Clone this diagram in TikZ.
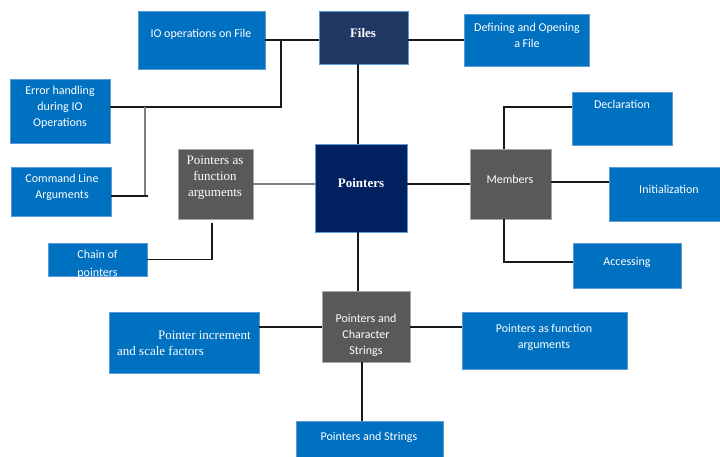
\documentclass[tikz,border=0pt]{standalone}
\usepackage{fontspec}
\newfontfamily\calibrifont{Carlito}
\newfontfamily\seriffont{Liberation Serif}
\usetikzlibrary{calc}

\definecolor{boxblue}{HTML}{0070C0}
\definecolor{edgeblue}{HTML}{5B9BD5}
\definecolor{boxgrey}{HTML}{595959}
\definecolor{edgegrey}{HTML}{A6A6A6}
\definecolor{filesnavy}{HTML}{203864}
\definecolor{ptrnavy}{HTML}{002060}

\tikzset{
  base/.style={rectangle, inner sep=0pt, outer sep=0pt},
  bluebox/.style={base, fill=boxblue, draw=edgeblue, line width=0.6pt},
  greybox/.style={base, fill=boxgrey, draw=edgegrey, line width=0.6pt},
  filesbox/.style={base, fill=filesnavy, draw=edgeblue, line width=0.6pt},
  ptrbox/.style={base, fill=ptrnavy, draw=edgeblue, line width=0.6pt},
  sans/.style={text=white, font=\calibrifont\fontsize{12}{16}\selectfont, align=center, inner sep=0pt},
  serif/.style={text=white, font=\seriffont\fontsize{13}{16}\selectfont, align=center, inner sep=0pt},
  serifbold/.style={text=white, font=\seriffont\fontsize{13}{15}\selectfont\bfseries, inner sep=0pt},
  link/.style={draw=black!90, line width=1.2pt},
  greylink/.style={draw=black!50, line width=1.2pt},
}

\begin{document}
\begin{tikzpicture}[x=1pt, y=-1pt]
\useasboundingbox (0,0) rectangle (720,456);

% --- boxes ---
\node[filesbox, minimum width=89pt, minimum height=53pt] (files) at (363.5,37.5) {};
\node[bluebox, minimum width=127pt, minimum height=58pt] (io) at (201.5,40) {};
\node[bluebox, minimum width=125pt, minimum height=52pt] (def) at (526.5,40) {};
\node[bluebox, minimum width=100pt, minimum height=64pt] (err) at (60,111) {};
\node[bluebox, minimum width=100pt, minimum height=49pt] (cmd) at (61,191.5) {};
\node[greybox, minimum width=75pt, minimum height=70pt] (pfa) at (215.5,184) {};
\node[ptrbox, minimum width=92pt, minimum height=88pt] (ptr) at (361,188) {};
\node[greybox, minimum width=81pt, minimum height=70pt] (mem) at (510.5,184) {};
\node[bluebox, minimum width=100pt, minimum height=53pt] (decl) at (622,118.5) {};
\node[bluebox, minimum width=111pt, minimum height=54pt] (init) at (664.5,194) {};
\node[bluebox, minimum width=108pt, minimum height=45pt] (acc) at (627,265.5) {};
\node[bluebox, minimum width=99pt, minimum height=33pt] (chain) at (97.5,259.5) {};
\node[greybox, minimum width=88pt, minimum height=71pt] (pcs) at (366,326.5) {};
\node[bluebox, minimum width=150pt, minimum height=61pt] (inc) at (184,342.5) {};
\node[bluebox, minimum width=165pt, minimum height=57pt] (rpfa) at (544.5,340.5) {};
\node[bluebox, minimum width=147pt, minimum height=40pt] (pas) at (369.5,441) {};

% --- labels ---
\node[serifbold] (files-t) at (363,33) {Files};
\node[sans] (io-t) at (201,34) {IO operations on File};
\node[sans] (def-t) at (527,35.5) {Defining and Opening\\a File};
\node[sans] (err-t) at (60,107.5) {Error handling\\during IO\\Operations};
\node[sans] (cmd-t) at (62,187) {Command Line\\Arguments};
\node[serif] (pfa-t) at (215,177.5) {Pointers as\\function\\arguments};
\node[serifbold] (ptr-t) at (361,183) {Pointers};
\node[sans] (mem-t) at (510,179) {Members};
\node[sans] (decl-t) at (622,104) {Declaration};
\node[sans] (init-t) at (669,189) {Initialization};
\node[sans] (acc-t) at (627,262) {Accessing};
% the second line of this label runs past the box and is cut off by it
\begin{scope}
  \clip (chain.north west) rectangle (chain.south east);
  \node[sans, font=\calibrifont\fontsize{12}{18}\selectfont] (chain-t) at (97.5,264) {Chain of\\pointers};
\end{scope}
\node[sans] (pcs-t) at (366,335) {Pointers and\\Character\\Strings};
\node[serif, anchor=east] (inc-t1) at (251,335) {Pointer increment};
\node[serif, anchor=west] (inc-t2) at (117,351) {and scale factors};
\node[sans] (rpfa-t) at (544,337) {Pointers as function\\arguments};
\node[sans] (pas-t) at (369,437) {Pointers and Strings};

% --- bend points ---
\coordinate (jio) at (281,40);
\coordinate (jerr) at (281,107);
\coordinate (jcmd) at (145,107);
\coordinate (jcmdend) at (148,196);
\coordinate (jchain) at (212,223);
\coordinate (mdecl) at (504,107);
\coordinate (minit) at (504,182);
\coordinate (macc) at (504,262);
\coordinate (pdown) at (358,0);
\coordinate (pside) at (0,327);
\coordinate (pbot) at (362,0);

% --- connectors ---
\draw[link] (io.east |- jio) -- (files.west |- jio);
\draw[link] (files.east |- jio) -- (def.west |- jio);
\draw[link] (jio) -- (jerr) -- (err.east |- jerr);
\draw[greylink] (jcmd) -- (jcmd |- jcmdend);
\draw[link] (jcmdend) -- (cmd.east |- jcmdend);
\draw[link] (files.south -| pdown) -- (ptr.north -| pdown);
\draw[greylink] (pfa.east) -- (pfa.east -| ptr.west);
\draw[link] (jchain) |- (chain.east);
\draw[link] (ptr.east |- mem.west) -- (mem.west);
\draw[link] (mem.north -| mdecl) |- (decl.west |- mdecl);
\draw[link] (mem.east |- minit) -- (init.west |- minit);
\draw[link] (mem.south -| macc) |- (acc.west |- macc);
\draw[link] (ptr.south -| pdown) -- (pcs.north -| pdown);
\draw[link] (inc.east |- pside) -- (pcs.west |- pside);
\draw[link] (pcs.east |- pside) -- (rpfa.west |- pside);
\draw[link] (pcs.south -| pbot) -- (pas.north -| pbot);
\end{tikzpicture}
\end{document}
